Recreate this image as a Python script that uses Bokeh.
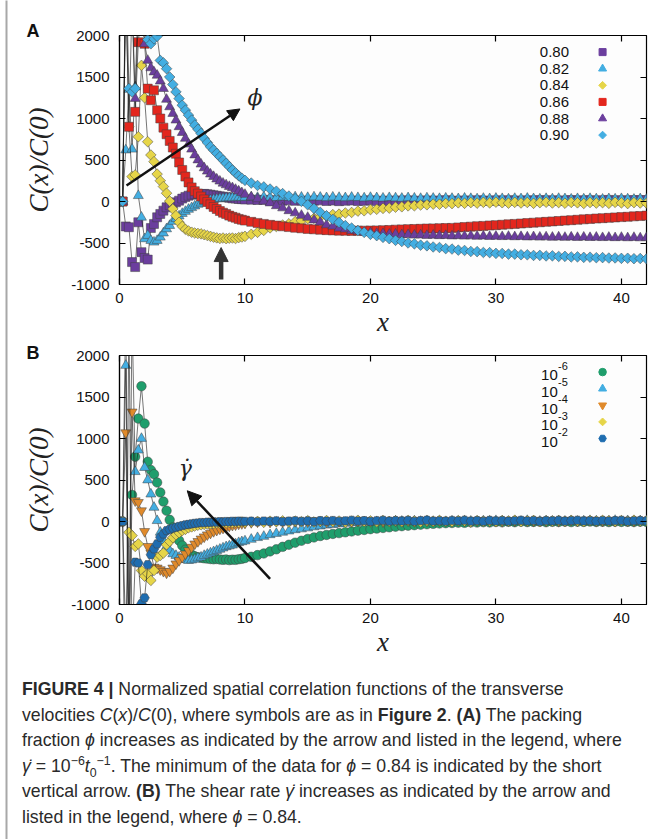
import numpy as np
from bokeh.plotting import figure
from bokeh.models import (FixedTicker, LinearAxis, Range1d, Arrow, NormalHead, Label, Div)
from bokeh.layouts import column, row
from bokeh.embed import file_html
from bokeh.resources import INLINE
from bokeh.core.properties import value

# ---------------- data ----------------
X_FINE = [0.0, 0.25, 0.5, 0.75, 1.0, 1.25, 1.5, 1.75, 2.0, 2.25, 2.5, 2.75, 3.0, 3.25,
          3.5, 3.75, 4.0, 4.25, 4.5, 4.75, 5.0, 5.25, 5.5, 5.75, 6.0, 6.25, 6.5, 6.75,
          7.0, 7.25, 7.5, 7.75, 8.0, 8.25, 8.5, 8.75, 9.0, 9.25, 9.5, 9.75, 10.0]
X_COARSE = [10.5, 11, 11.5, 12, 12.5, 13, 13.5, 14, 14.5, 15, 15.5, 16, 16.5, 17, 17.5, 18,
            18.5, 19, 19.5, 20, 20.5, 21, 21.5, 22, 22.5, 23, 23.5, 24, 24.5, 25, 25.5, 26,
            26.5, 27, 27.5, 28, 28.5, 29, 29.5, 30, 30.5, 31, 31.5, 32, 32.5, 33, 33.5, 34,
            34.5, 35, 35.5, 36, 36.5, 37, 37.5, 38, 38.5, 39, 39.5, 40, 40.5, 41, 41.5, 42]
X = X_FINE + X_COARSE

PHI_LABELS = ["0.80", "0.82", "0.84", "0.86", "0.88", "0.90"]

PHI_080 = [0, 0, -300, -310, -730, -790, -250, -610, -680, -700, -320, -270, -190, -150,
           -110, -70, -45, -25, -10, 10, 35, 55, 70, 82, 88, 92, 90, 92, 88, 82, 75, 70, 62,
           58, 50, 45, 38, 35, 30, 28, 25] + \
          [22, 18, 20, 12, 15, 10, 14, 8, 12, 5, 10, 14, 6, 11, 4, 9,
           12, 6, 8, 15, 5, 10, 7, 12, 9, 14, 6, 10, 13, 8, 11, 16,
           10, 7, 13, 9, 15, 11, 8, 14, 10, 16, 12, 9, 14, 11, 17, 12,
           15, 10, 13, 18, 11, 14, 16, 12, 15, 19, 13, 16, 12, 18, 15, 17]

PHI_082 = [0, 0, 620, 1350, 630, 1380, 70, -190, -450, -410, -470, -490, -470, -430, -380,
           -330, -290, -240, -205, -175, -145, -120, -95, -75, -55, -35, -20, 0, 10, 18, 25,
           30, 35, 38, 42, 45, 44, 48, 50, 47, 50] + \
          [52, 48, 55, 50, 46, 53, 49, 55, 51, 47, 54, 50, 45, 52, 48, 44,
           50, 46, 42, 48, 44, 40, 46, 42, 38, 44, 40, 36, 42, 38, 35, 40,
           37, 33, 39, 35, 31, 37, 33, 38, 34, 30, 36, 32, 38, 33, 29, 35,
           31, 36, 32, 28, 34, 30, 35, 31, 27, 33, 29, 34, 30, 26, 32, 28]

PHI_084 = [0, 0, 2600, 900, 300, 320, 780, 1640, 1250, 720, 560, 480, 330, 250, 180, 100,
           5, -90, -170, -250, -300, -335, -355, -370, -380, -385, -390, -400, -410, -420,
           -430, -438, -445, -440, -448, -442, -440, -446, -435, -428, -420] + \
          [-395, -372, -348, -318, -302, -283, -268, -243, -232, -208, -202, -183, -178, -158, -152, -138,
           -132, -116, -112, -98, -94, -83, -80, -68, -64, -53, -52, -42, -40, -32, -33, -24,
           -25, -16, -22, -13, -20, -10, -17, -8, -15, -20, -10, -18, -12, -22, -14, -9,
           -18, -13, -21, -11, -16, -24, -12, -19, -14, -22, -10, -17, -25, -13, -18, -20]

PHI_086 = [0, 0, 2600, 900, 2400, 1080, 1920, 2300, 1900, 1360, 1220, 1340, 1100, 1000, 890,
           810, 730, 650, 575, 470, 380, 300, 230, 170, 125, 95, 60, 25, -5, -35, -65, -90,
           -115, -135, -150, -170, -185, -195, -210, -220, -230] + \
          [-245, -258, -270, -281, -290, -299, -308, -316, -323, -330, -335, -340, -345, -348, -351, -352,
           -354, -352, -351, -350, -348, -346, -343, -339, -336, -333, -331, -329, -326, -324, -322, -320,
           -318, -313, -308, -303, -298, -294, -289, -285, -280, -275, -270, -265, -260, -255, -250, -245,
           -240, -235, -230, -225, -220, -215, -210, -205, -201, -197, -192, -188, -184, -179, -175, -170]

PHI_088 = [0, 0, 2800, 4000, 2500, 1240, 2200, 2600, 1900, 1700, 1610, 1560, 1520, 1450, 1360,
           1230, 1140, 1060, 980, 900, 830, 760, 690, 630, 560, 500, 450, 405, 365, 330, 300,
           270, 245, 220, 200, 180, 165, 145, 125, 105, 85] + \
          [55, 32, 3, -18, -52, -78, -112, -138, -168, -192, -223, -247, -282, -298, -322, -333,
           -352, -358, -372, -376, -386, -388, -395, -394, -401, -400, -406, -404, -410, -407, -413, -410,
           -416, -413, -418, -415, -420, -417, -422, -419, -424, -421, -426, -423, -428, -425, -430, -427,
           -432, -428, -433, -429, -434, -430, -435, -431, -436, -432, -437, -433, -438, -434, -439, -435]

PHI_090 = [0, 0, 3000, 1360, 1320, 1360, 2500, 3000, 2400, 1950, 1900, 1960, 1990, 1700, 1670,
           1600, 1500, 1410, 1320, 1240, 1160, 1100, 1040, 980, 920, 870, 820, 760, 710, 660,
           620, 580, 540, 500, 460, 420, 380, 345, 310, 280, 255] + \
          [222, 193, 176, 150, 124, 95, 66, 34, 2, -40, -84, -130, -172, -215, -252, -290,
           -320, -350, -372, -396, -412, -432, -448, -468, -482, -500, -510, -526, -534, -548, -554, -568,
           -573, -586, -590, -602, -604, -614, -616, -625, -626, -634, -634, -642, -642, -650, -649, -656,
           -655, -662, -661, -668, -667, -673, -671, -677, -676, -681, -680, -685, -684, -689, -687, -691]

RATE_EXPONENTS = ["-6", "-5", "-4", "-3", "-2"]

RATE_1E6 = [0, 0, 2600, -1800, 320, 780, 1240, 1630, 1180, 720, 620, 570, 470, 350, 240, 130,
            20, -70, -150, -230, -290, -340, -375, -400, -420, -430, -438, -443, -447, -452,
            -455, -452, -458, -462, -458, -465, -460, -462, -455, -450, -440] + \
           [-425, -405, -385, -360, -335, -305, -280, -255, -232, -210, -192, -175, -162, -150, -140, -130,
            -120, -110, -102, -92, -85, -78, -70, -62, -56, -50, -44, -38, -33, -28, -24, -20,
            -18, -14, -16, -10, -12, -8, -11, -6, -9, -4, -8, -2, -7, -5, -3, -8,
            -4, -6, -2, -7, -3, -5, -1, -6, -3, -7, -2, -5, -4, -6, -2, -5]

RATE_1E5 = [0, 0, 1880, -1500, 2500, 600, 860, 1000, 650, 500, 330, 170, 10, -130, -230, -300,
            -350, -390, -410, -430, -450, -460, -470, -465, -455, -440, -430, -410, -395, -380,
            -365, -350, -335, -320, -305, -295, -285, -270, -255, -245, -235] + \
           [-215, -195, -180, -160, -145, -130, -115, -100, -90, -78, -65, -55, -45, -38, -30, -22,
            -15, -10, -8, -5, -2, 3, -4, 6, 2, -3, 5, 1, 8, 0, 4, -2,
            6, 2, 9, 3, -1, 7, 4, 10, 5, 1, 8, 3, 11, 6, 2, 7,
            4, 9, 3, 8, 1, 6, 10, 5, 2, 7, 12, 4, 9, 3, 8, 6]

RATE_1E4 = [0, 0, 1070, -1500, 1320, 250, 230, 130, -120, -300, -380, -550, -560, -580, -600,
            -620, -600, -560, -510, -470, -430, -390, -350, -310, -270, -240, -210, -185, -160,
            -140, -120, -105, -90, -80, -65, -55, -45, -40, -30, -25, -20] + \
           [-12, -5, 2, -8, 5, -3, 8, 0, 6, -4, 9, 2, -6, 7, 3, 10,
            -2, 5, 12, 1, 8, -3, 6, 11, 4, 9, 0, 13, 5, 2, 10, 7,
            3, 12, 6, -1, 9, 14, 4, 8, 1, 11, 5, 15, 7, 3, 10, 6,
            12, 2, 8, 13, 4, 9, 16, 7, 3, 11, 6, 14, 9, 2, 8, 12]

RATE_1E3 = [0, 0, -1400, -130, -170, -300, -270, -590, -660, -630, -710, -590, -430, -410, -380,
            -280, -240, -195, -160, -135, -110, -95, -75, -65, -55, -45, -40, -35, -30, -28, -25,
            -20, -22, -15, -18, -12, -15, -8, -12, -5, -10] + \
           [-6, 2, -10, 4, -3, 8, -7, 5, -2, 10, -5, 3, 12, -1, 6, -8,
            4, 15, 0, 7, -4, 11, 2, 9, -3, 13, 5, -6, 8, 1, 14, 3,
            -2, 10, 6, -5, 12, 2, 8, -1, 11, 4, 16, 0, 7, 13, -3, 9,
            5, 12, 1, 15, 6, -2, 10, 4, 14, 7, 0, 11, 3, 16, 6, 9]

RATE_1E2 = [0, 0, -2500, 2500, -1500, -490, -500, -990, -920, -520, -400, -330, -270, -190, -150,
            -110, -95, -80, -70, -60, -50, -40, -35, -28, -22, -18, -12, -15, -8, -10, -5, -8,
            -2, -6, 0, -4, 3, -2, 5, 0, 2] + \
           [4, -3, 6, 1, 8, -2, 5, 9, 2, 7, -1, 10, 4, 12, 3, 8,
            15, 6, 11, 2, 9, 14, 5, 10, 7, 13, 3, 11, 16, 6, 9, 4,
            12, 8, 15, 5, 10, 3, 13, 7, 11, 4, 9, 14, 6, 12, 2, 10,
            8, 13, 5, 11, 15, 7, 9, 4, 12, 6, 10, 14, 3, 9, 11, 7]

X_TICKS = [0, 10, 20, 30, 40]
Y_TICKS = [-1000, -500, 0, 500, 1000, 1500, 2000]
Y_TICK_TEXT = {-1000: "-1000", -500: "-500"}

PHI_SERIES = [PHI_080, PHI_082, PHI_084, PHI_086, PHI_088, PHI_090]
RATE_SERIES = [RATE_1E6, RATE_1E5, RATE_1E4, RATE_1E3, RATE_1E2]
for s in PHI_SERIES + RATE_SERIES:
    assert len(s) == len(X), len(s)

# ---------------- styles ----------------
PURPLE = "#6b3e9e"
CYAN = "#43aee2"
YELLOW = "#e6d548"
RED = "#e3261d"
GREEN = "#1f9e6c"
ORANGE = "#e08a2b"
BLUE = "#1f6db0"

# (marker, colour, size, angle)
PHI_STYLE = [("square", PURPLE, 9, 0), ("triangle", CYAN, 10, 0), ("square", YELLOW, 7.5, np.pi / 4),
             ("square", RED, 9, 0), ("triangle", PURPLE, 10, 0), ("square", CYAN, 7.5, np.pi / 4)]
RATE_STYLE = [("circle", GREEN, 9.5, 0), ("triangle", CYAN, 10, 0), ("inverted_triangle", ORANGE, 10, 0),
              ("square", YELLOW, 7.5, np.pi / 4), ("hex", BLUE, 9.5, 0)]

TICK_FONT = "Liberation Sans"
MATH_FONT = "Liberation Serif"
RULE_W = 8
FIG_W = 654 - RULE_W  # page width minus the strip holding the grey rule
LEFT_B, RIGHT_B, BOTTOM_B = 111, 8, 58


def make_panel(height, top_border):
    p = figure(width=FIG_W, height=height, x_range=Range1d(0, 42), y_range=Range1d(-1000, 2000),
               output_backend="svg", toolbar_location=None,
               min_border_left=LEFT_B, min_border_right=RIGHT_B, min_border_top=top_border,
               min_border_bottom=BOTTOM_B, background_fill_color="#fdfdfd",
               border_fill_color="white", outline_line_color="black", outline_line_width=1.2)
    p.grid.visible = False
    for ax in (p.xaxis[0], p.yaxis[0]):
        ax.major_tick_in = 6
        ax.major_tick_out = 0
        ax.minor_tick_line_color = None
        ax.axis_line_color = "black"
        ax.axis_line_width = 1.2
        ax.major_tick_line_width = 1.2
        ax.major_label_text_font = TICK_FONT
        ax.major_label_text_font_size = "15px"
        ax.major_label_text_color = "#111111"
        ax.axis_label_text_font = MATH_FONT
        ax.axis_label_text_font_style = "italic"
        ax.axis_label_text_font_size = "27px"
        ax.axis_label_text_color = "#222222"
    p.xaxis.ticker = FixedTicker(ticks=X_TICKS)
    p.yaxis.ticker = FixedTicker(ticks=Y_TICKS)
    p.yaxis.major_label_overrides = Y_TICK_TEXT
    p.xaxis.major_label_standoff = 8
    p.yaxis.major_label_standoff = 10
    p.xaxis.axis_label = "x"
    p.xaxis.axis_label_standoff = 1
    p.yaxis.axis_label = "C(x)/C(0)"
    p.yaxis.axis_label_standoff = 14
    for side, ticks in (("above", X_TICKS), ("right", Y_TICKS)):
        ax = LinearAxis(ticker=FixedTicker(ticks=ticks), major_label_text_font_size="1px",
                        major_label_text_color=None, major_label_standoff=0,
                        major_tick_in=6, major_tick_out=0, minor_tick_line_color=None,
                        axis_line_color=None, major_tick_line_width=1.2)
        p.add_layout(ax, side)
    return p


def draw_series(p, series, styles):
    for ys, (marker, color, size, angle) in zip(series, styles):
        p.line(X, ys, line_color="#1a1a1a", line_width=0.6)
        p.scatter(X, ys, marker=marker, size=size, angle=angle, fill_color=color,
                  line_color="#404040", line_width=0.5)


def panel_letter(p, letter, y):
    # placed in the left side panel so that it is not clipped to the frame
    p.add_layout(Label(x=-6.9, y=y, text=letter, text_font=TICK_FONT, text_font_style="bold",
                       text_font_size="18px", text_align="center", text_baseline="middle",
                       text_color="#111111"), "left")


# ---------------- panel A ----------------
H_A = 35 + 249 + BOTTOM_B
pA = make_panel(H_A, 35)
draw_series(pA, PHI_SERIES, PHI_STYLE)

LEG_Y = [1800, 1600, 1400, 1200, 1000, 800]
pA.text(x=[33.5] * len(PHI_LABELS), y=LEG_Y[:len(PHI_LABELS)], text=PHI_LABELS,
        text_font=value(TICK_FONT), text_font_size="15px", text_baseline="middle",
        text_align="left", text_color="#111111")
for yy, (marker, color, size, angle) in zip(LEG_Y, PHI_STYLE):
    pA.scatter([38.5], [yy], marker=marker, size=size - 2, angle=angle, fill_color=color,
               line_color=color)

pA.add_layout(Arrow(end=NormalHead(size=12, fill_color="#111111", line_color="#111111"),
                    x_start=0.56, y_start=193, x_end=9.6, y_end=1115,
                    line_color="#111111", line_width=2.5))
pA.add_layout(Label(x=10.8, y=1257, text="ϕ", text_font="DejaVu Serif", text_font_style="italic",
                    text_font_size="22px", text_align="center", text_baseline="middle",
                    text_color="#222222"))
pA.add_layout(Arrow(end=NormalHead(size=14, fill_color="#333333", line_color="#333333"),
                    x_start=8.1, y_start=-940, x_end=8.1, y_end=-555,
                    line_color="#333333", line_width=4.5))
panel_letter(pA, "A", 2060)

# ---------------- panel B ----------------
TOP_B = 355 - H_A
H_B = TOP_B + 249 + BOTTOM_B
pB = make_panel(H_B, TOP_B)
draw_series(pB, RATE_SERIES, RATE_STYLE)

LEG_YB = [1800, 1600, 1400, 1200, 1000]
pB.text(x=[33.6] * len(RATE_EXPONENTS), y=[v - 40 for v in LEG_YB], text=["10"] * len(RATE_EXPONENTS),
        text_font=value(TICK_FONT), text_font_size="15px", text_baseline="middle",
        text_align="left", text_color="#111111")
pB.text(x=[34.95] * len(RATE_EXPONENTS), y=[v + 75 for v in LEG_YB], text=RATE_EXPONENTS,
        text_font=value(TICK_FONT), text_font_size="11px", text_baseline="middle",
        text_align="left", text_color="#111111")
for yy, (marker, color, size, angle) in zip(LEG_YB, RATE_STYLE):
    pB.scatter([38.5], [yy], marker=marker, size=size - 2, angle=angle, fill_color=color,
               line_color=color)

pB.add_layout(Arrow(end=NormalHead(size=14, fill_color="#111111", line_color="#111111"),
                    x_start=12.0, y_start=-690, x_end=5.4, y_end=370,
                    line_color="#111111", line_width=2.5))
pB.add_layout(Label(x=5.25, y=640, text="γ̇", text_font="DejaVu Serif", text_font_style="italic",
                    text_font_size="22px", text_align="center", text_baseline="middle",
                    text_color="#222222"))
panel_letter(pB, "B", 2036)

# ---------------- caption ----------------
SUB_SUP = ('<i>t</i><sub style="line-height:0;font-size:0.7em">0</sub>'
           '<sup style="line-height:0;font-size:0.7em">−1</sup>')
CAPTION_LINES = [
    '<b>FIGURE 4 |</b> Normalized spatial correlation functions of the transverse',
    'velocities <i>C</i>(<i>x</i>)/<i>C</i>(0), where symbols are as in <b>Figure 2</b>. '
    '<b>(A)</b> The packing',
    'fraction <i>ϕ</i> increases as indicated by the arrow and listed in the legend, where',
    '<i>γ̇</i> = 10<sup style="line-height:0;font-size:0.7em">−6</sup>' + SUB_SUP +
    '. The minimum of the data for <i>ϕ</i> = 0.84 is indicated by the short',
    'vertical arrow. <b>(B)</b> The shear rate <i>γ̇</i> increases as indicated by the arrow and',
    'listed in the legend, where <i>ϕ</i> = 0.84.',
]
CAP_TOP = 355 + 249 + BOTTOM_B
CAP_H = 839 - CAP_TOP
CAP_PAD = 677 - CAP_TOP
caption_html = ('<div style="font-family:\'Liberation Sans Narrow\',\'Liberation Sans\',sans-serif;'
                'font-size:17.7px;line-height:25.6px;color:#2a2a2a;padding:%dpx 0 0 14px;'
                'margin:0;white-space:nowrap;">' % CAP_PAD + '<br>'.join(CAPTION_LINES) + '</div>')
cap = Div(text=caption_html, width=FIG_W, height=CAP_H, margin=(0, 0, 0, 0))

# thin grey rule down the left edge of the page: a tiny plot whose 2 px frame is grey
rule = figure(width=RULE_W, height=839, output_backend="svg", toolbar_location=None,
              x_axis_type=None, y_axis_type=None, min_border_left=5, min_border_right=1,
              min_border_top=0, min_border_bottom=0, background_fill_color="#a8a8a8",
              border_fill_color="white", outline_line_color=None,
              x_range=Range1d(0, 1), y_range=Range1d(0, 1))
rule.grid.visible = False

layout = row(rule, column(pA, pB, cap, margin=(0, 0, 0, 0)), margin=(0, 0, 0, 0))

open("out.html", "w").write(file_html(layout, INLINE))
